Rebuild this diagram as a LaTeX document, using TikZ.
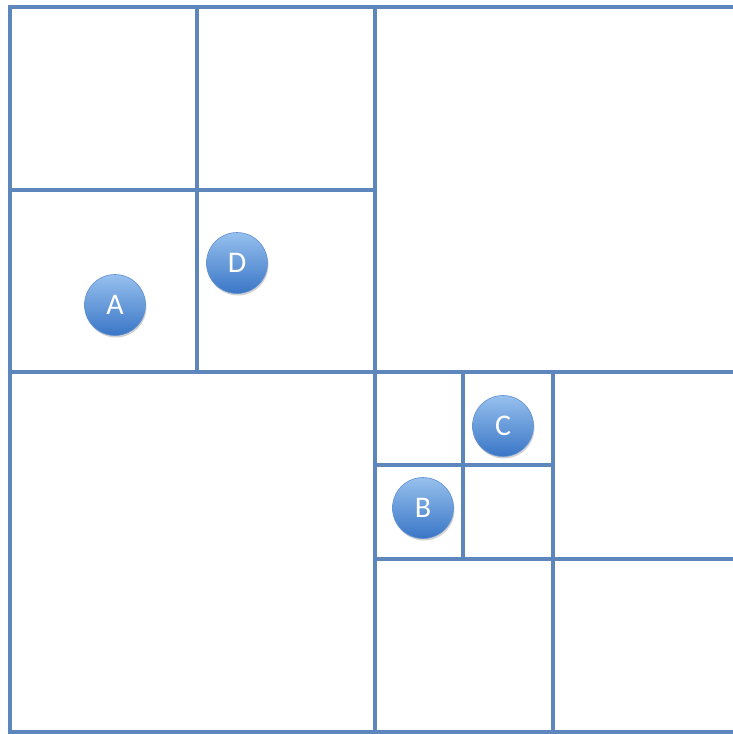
\documentclass[tikz,border=0pt]{standalone}
\usepackage{fontspec}
\setmainfont{Carlito}
\usetikzlibrary{shadows}
\definecolor{gridblue}{RGB}{92,134,188}
\definecolor{balltop}{RGB}{150,192,238}
\definecolor{ballbot}{RGB}{58,118,198}
\tikzset{
  gridline/.style={draw=gridblue, line width=3.4pt},
  marker/.style={circle, minimum size=61pt, inner sep=0pt, text=white,
    top color=balltop, bottom color=ballbot, draw=ballbot!80!white, line width=0.6pt,
    font=\fontsize{30}{30}\selectfont,
    drop shadow={shadow xshift=1pt, shadow yshift=-2pt, opacity=0.35, fill=gray}}
}
\begin{document}
\begin{tikzpicture}[x=1pt,y=-1pt]
\useasboundingbox (0,0) rectangle (733,734);
\fill[white] (0,0) rectangle (733,734);
% outer frame
\draw[gridline] (740,7) -- (10,7) -- (10,732) -- (740,732);
% main split
\draw[gridline] (375,7) -- (375,732);
\draw[gridline] (10,372) -- (740,372);
% top-left quadrant
\draw[gridline] (197,7) -- (197,372);
\draw[gridline] (10,190) -- (375,190);
% bottom-right quadrant
\draw[gridline] (553,372) -- (553,732);
\draw[gridline] (375,559) -- (740,559);
% its top-left sub-quadrant
\draw[gridline] (463,372) -- (463,559);
\draw[gridline] (375,465) -- (553,465);
% markers
\node[marker] (A) at (115,305) {A};
\node[marker] (D) at (237,263) {D};
\node[marker] (C) at (503,426) {C};
\node[marker] (B) at (423,508) {B};
\end{tikzpicture}
\end{document}
